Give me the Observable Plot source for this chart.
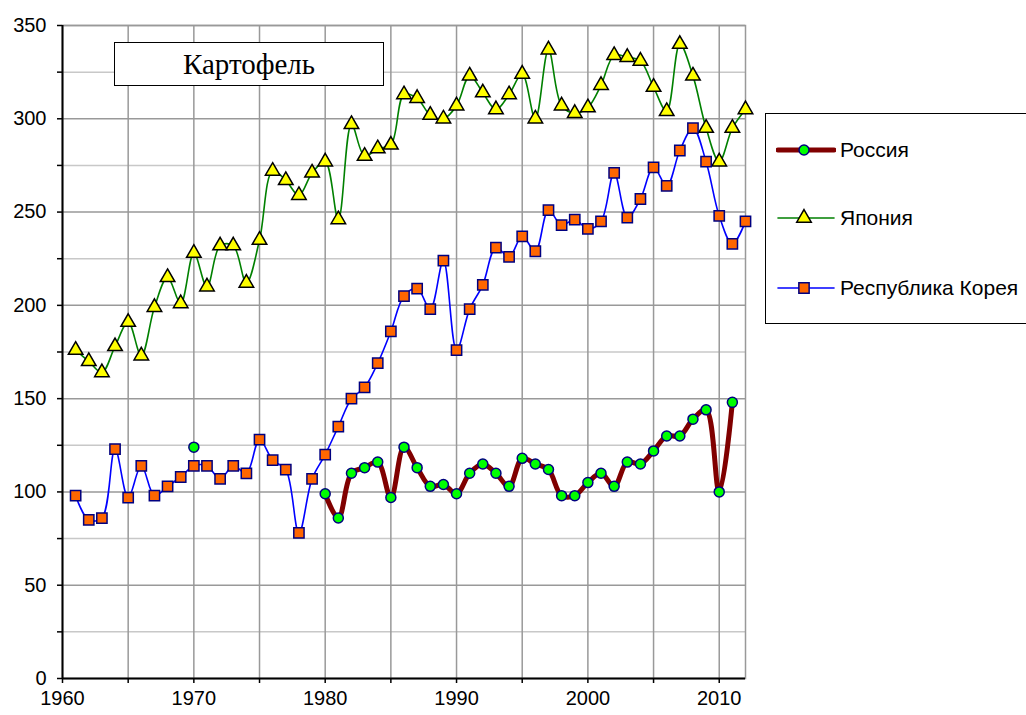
<!DOCTYPE html>
<html><head><meta charset="utf-8">
<script src="https://cdn.jsdelivr.net/npm/d3@7"></script>
<script src="https://cdn.jsdelivr.net/npm/@observablehq/plot@0.6"></script>
<style>
html,body{margin:0;padding:0;background:#fff;overflow:hidden}
#wrap{position:relative;width:1026px;height:715px;}
#title{position:absolute;left:114px;top:42px;width:268px;height:42px;border:1.5px solid #000;background:#fff;font-family:"Liberation Serif","Times New Roman",serif;font-size:29px;display:flex;align-items:center;justify-content:center;}
#legend{position:absolute;left:765px;top:113px;width:290px;height:209px;border:1.5px solid #000;background:#fff;font-family:"Liberation Sans",Arial,sans-serif;font-size:21px;}
.lrow{position:absolute;left:10px;height:24px;display:flex;align-items:center;}
.lrow span{margin-left:4px;}
</style></head><body><div id="wrap"></div>
<script>
const titleText = "Картофель";
const years = d3.range(1961, 2013);
const seriesNames = ["Россия", "Япония", "Республика Корея"];

const russia = [
  null,null,null,null,null,null,null,null,null,124,
  null,null,null,null,null,null,null,null,null,99,
  86,110,113,116,97,124,113,103,104,99,
  110,115,110,103,118,115,112,98,98,105,
  110,103,116,115,122,130,130,139,144,100,
  148,null
];
const japan = [
  176,170,164,178,191,173,199,215,201,228,
  210,232,232,212,235,272,267,259,271,277,
  246,297,280,284,286,313,311,302,300,307,
  323,314,305,313,324,300,337,307,303,306,
  318,334,333,331,317,304,340,323,295,277,
  295,305
];
const korea = [
  98,85,86,123,97,114,98,103,108,114,
  114,107,114,110,128,117,112,78,107,120,
  135,150,156,169,186,205,209,198,224,176,
  198,211,231,226,237,229,251,243,246,241,
  245,271,247,257,274,264,283,295,277,248,
  233,245
];
const xTicks = d3.range(1960, 2015, 5);
const yTicks = d3.range(0, 375, 25);

const styles = [
  {name: seriesNames[0], values: russia, line: "#800000", lw: 5, symbol: "circle", r: 5, fill: "#00ff00", stroke: "#000080"},
  {name: seriesNames[1], values: japan, line: "#008000", lw: 1.6, symbol: "triangle", r: 5.4, fill: "#ffff00", stroke: "#000000"},
  {name: seriesNames[2], values: korea, line: "#0000ff", lw: 1.6, symbol: "square", r: 5.8, fill: "#ff6600", stroke: "#000080"}
];

const rows = [];
styles.forEach(s => years.forEach((yr, i) => rows.push({series: s.name, year: yr, value: s.values[i]})));

const lineMarks = styles.map(s => Plot.line(rows.filter(d => d.series === s.name), {
  x: "year", y: "value", stroke: s.line, strokeWidth: s.lw, curve: "catmull-rom"
}));
const dotMarks = styles.map(s => Plot.dot(rows.filter(d => d.series === s.name && d.value != null), {
  x: "year", y: "value", symbol: s.symbol, r: s.r, fill: s.fill, stroke: s.stroke, strokeWidth: 1.5
}));

const chart = Plot.plot({
  width: 1026, height: 715,
  marginLeft: 62, marginRight: 281, marginTop: 25, marginBottom: 37,
  style: {fontFamily: "'Liberation Sans', Arial, sans-serif", fontSize: "20px", color: "#000", background: "#fff"},
  x: {domain: [1960, 2012], label: null},
  y: {domain: [0, 350], label: null},
  marks: [
    Plot.gridY(yTicks.filter(v => v % 50 !== 0), {stroke: "#c8c8c8", strokeOpacity: 1, strokeWidth: 1.5}),
    Plot.gridY(yTicks.filter(v => v % 50 === 0 && v > 0), {stroke: "#999", strokeOpacity: 1, strokeWidth: 1.5}),
    Plot.gridX(xTicks.filter(v => v > 1960), {stroke: "#999", strokeOpacity: 1, strokeWidth: 1.5}),
    Plot.frame({stroke: "#999", strokeWidth: 1.5}),
    Plot.axisY(yTicks, {label: null, tickFormat: d => d % 50 === 0 ? String(d) : "", tickSize: 5, tickPadding: 11, fontSize: 20, strokeWidth: 1.5}),
    Plot.axisX(xTicks, {label: null, tickFormat: d => d % 10 === 0 ? String(d) : "", tickSize: 5, tickPadding: 7, fontSize: 20, strokeWidth: 1.5}),
    Plot.ruleY([0], {stroke: "#000", strokeWidth: 2}),
    Plot.ruleX([1960], {stroke: "#000", strokeWidth: 2}),
    ...lineMarks,
    ...dotMarks
  ]
});
const wrap = document.getElementById("wrap");
wrap.appendChild(chart);

const t = document.createElement("div");
t.id = "title"; t.textContent = titleText;
wrap.appendChild(t);

const lg = document.createElement("div");
lg.id = "legend";
const rowTops = [24, 92, 162];
styles.forEach((s, i) => {
  const row = document.createElement("div");
  row.className = "lrow";
  row.style.top = rowTops[i] + "px";
  const svg = d3.create("svg").attr("width", 60).attr("height", 24);
  svg.append("line").attr("x1", 2).attr("x2", 58).attr("y1", 12).attr("y2", 12)
    .attr("stroke", s.line).attr("stroke-width", s.lw).attr("stroke-linecap", "round");
  const sym = {circle: d3.symbolCircle, triangle: d3.symbolTriangle, square: d3.symbolSquare}[s.symbol];
  svg.append("path").attr("transform", "translate(28,12)")
    .attr("d", d3.symbol(sym, s.r * s.r * Math.PI)())
    .attr("fill", s.fill).attr("stroke", s.stroke).attr("stroke-width", 1.5);
  row.appendChild(svg.node());
  const sp = document.createElement("span");
  sp.textContent = s.name;
  row.appendChild(sp);
  lg.appendChild(row);
});
wrap.appendChild(lg);
</script></body></html>
